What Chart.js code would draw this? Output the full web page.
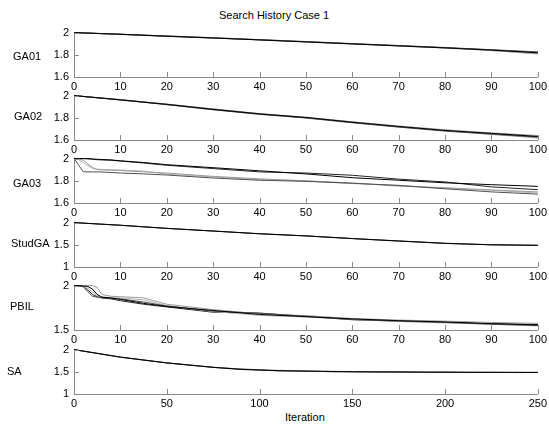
<!DOCTYPE html>
<html>
<head>
<meta charset="utf-8">
<script src="https://cdn.jsdelivr.net/npm/chart.js@4.4.1/dist/chart.umd.min.js"></script>
<style>
  html, body { margin: 0; padding: 0; background: #fff; }
  #fig { position: relative; width: 549px; height: 435px; overflow: hidden; background: #fff;
         font-family: 'Liberation Sans', Arial, sans-serif; color: #000; }
  .panel { position: absolute; left: 0; width: 550px; height: 72px; }
  .txt { position: absolute; font-size: 11px; line-height: 13px; white-space: nowrap; }
</style>
</head>
<body>
<div id="fig">
  <div class="txt" style="left:219px; top:9px;">Search History Case 1</div>
  <div class="txt" style="left:285px; top:411px;">Iteration</div>
</div>
<script>
// ---- data ----
const iter10   = [0, 10, 20, 30, 40, 50, 60, 70, 80, 90, 100];
const iterFine = [0, 1, 2, 3, 4, 5, 6, 8, 10, 15, 20, 30, 40, 50, 60, 70, 80, 90, 100];
const iterSA   = [0, 25, 50, 75, 90, 100, 110, 125, 140, 150, 165, 175, 190, 200, 215, 225, 240, 250];

const ga01Runs = [
  [2.000, 1.985, 1.968, 1.952, 1.934, 1.916, 1.898, 1.880, 1.862, 1.842, 1.818],
  [2.000, 1.984, 1.966, 1.950, 1.936, 1.918, 1.900, 1.884, 1.866, 1.846, 1.826],
  [2.000, 1.986, 1.970, 1.955, 1.937, 1.920, 1.902, 1.882, 1.864, 1.838, 1.812],
  [2.000, 1.983, 1.967, 1.951, 1.933, 1.915, 1.896, 1.879, 1.860, 1.840, 1.806],
  [2.000, 1.985, 1.969, 1.953, 1.935, 1.917, 1.899, 1.881, 1.863, 1.844, 1.822],
];
const ga02Runs = [
  [2.000, 1.962, 1.921, 1.876, 1.835, 1.803, 1.760, 1.722, 1.686, 1.660, 1.632],
  [2.000, 1.960, 1.918, 1.872, 1.832, 1.798, 1.755, 1.716, 1.680, 1.652, 1.625],
  [2.000, 1.964, 1.924, 1.880, 1.838, 1.806, 1.764, 1.726, 1.692, 1.664, 1.640],
  [2.000, 1.961, 1.920, 1.874, 1.830, 1.800, 1.757, 1.718, 1.684, 1.650, 1.618],
  [2.000, 1.963, 1.922, 1.878, 1.836, 1.801, 1.762, 1.720, 1.688, 1.656, 1.628],
];
const ga03Runs = [
  [2.000, 2.000, 2.000, 1.998, 1.996, 1.994, 1.992, 1.988, 1.980, 1.965, 1.945, 1.918, 1.890, 1.862, 1.828, 1.805, 1.782, 1.765, 1.750],
  [2.000, 1.940, 1.882, 1.880, 1.880, 1.880, 1.879, 1.875, 1.870, 1.862, 1.852, 1.825, 1.805, 1.795, 1.778, 1.758, 1.728, 1.700, 1.680],
  [2.000, 2.000, 1.985, 1.950, 1.920, 1.900, 1.898, 1.895, 1.892, 1.880, 1.870, 1.840, 1.818, 1.800, 1.780, 1.752, 1.738, 1.718, 1.700],
  [2.000, 1.990, 1.965, 1.935, 1.912, 1.905, 1.903, 1.900, 1.897, 1.888, 1.860, 1.835, 1.810, 1.798, 1.775, 1.760, 1.730, 1.715, 1.690],
  [2.000, 2.000, 2.000, 2.000, 1.995, 1.990, 1.988, 1.985, 1.978, 1.960, 1.940, 1.910, 1.880, 1.870, 1.850, 1.815, 1.790, 1.745, 1.720],
];
const studRuns = [
  [2.000, 1.940, 1.870, 1.810, 1.748, 1.700, 1.640, 1.585, 1.532, 1.500, 1.488],
  [2.000, 1.941, 1.871, 1.811, 1.750, 1.702, 1.642, 1.588, 1.535, 1.502, 1.490],
  [2.000, 1.939, 1.869, 1.809, 1.747, 1.699, 1.639, 1.583, 1.530, 1.499, 1.487],
];
const pbilRuns = [
  [2.000, 2.000, 1.995, 1.990, 1.960, 1.900, 1.870, 1.860, 1.845, 1.800, 1.765, 1.720, 1.675, 1.650, 1.625, 1.605, 1.590, 1.572, 1.558],
  [2.000, 1.998, 1.990, 1.930, 1.880, 1.870, 1.865, 1.860, 1.850, 1.815, 1.770, 1.712, 1.690, 1.655, 1.615, 1.600, 1.585, 1.565, 1.550],
  [2.000, 2.000, 2.000, 2.000, 2.000, 1.980, 1.900, 1.880, 1.875, 1.862, 1.790, 1.730, 1.680, 1.662, 1.630, 1.612, 1.600, 1.585, 1.575],
  [2.000, 1.995, 1.985, 1.970, 1.930, 1.890, 1.875, 1.865, 1.860, 1.840, 1.775, 1.708, 1.665, 1.645, 1.620, 1.595, 1.580, 1.565, 1.545],
  [2.000, 2.000, 1.990, 1.950, 1.900, 1.875, 1.860, 1.850, 1.830, 1.790, 1.760, 1.700, 1.690, 1.652, 1.618, 1.602, 1.588, 1.570, 1.562],
];
const saRuns = [
  [2.000, 1.830, 1.700, 1.600, 1.555, 1.540, 1.525, 1.515, 1.505, 1.500, 1.498, 1.495, 1.492, 1.490, 1.488, 1.487, 1.486, 1.485],
  [2.000, 1.832, 1.702, 1.603, 1.560, 1.545, 1.520, 1.518, 1.500, 1.505, 1.492, 1.500, 1.488, 1.495, 1.484, 1.490, 1.482, 1.488],
  [2.000, 1.828, 1.698, 1.598, 1.550, 1.535, 1.530, 1.510, 1.510, 1.495, 1.502, 1.490, 1.496, 1.486, 1.492, 1.484, 1.490, 1.483],
  [2.000, 1.831, 1.701, 1.601, 1.565, 1.548, 1.535, 1.522, 1.512, 1.508, 1.500, 1.497, 1.494, 1.492, 1.490, 1.489, 1.488, 1.487],
];

const panelNames = ['GA01', 'GA02', 'GA03', 'StudGA', 'PBIL', 'SA'];
const yTicksGA   = [1.6, 1.8, 2];
const yTicksStud = [1, 1.5, 2];
const yTicksPBIL = [1.5, 2];
const yTicksSA   = [1, 1.5, 2];
const xTicks100  = [0, 10, 20, 30, 40, 50, 60, 70, 80, 90, 100];
const xTicks250  = [0, 50, 100, 150, 200, 250];

// ---- layout / style ----
const FONT      = "'Liberation Sans', Arial, sans-serif";
const AXIS_GRAY = '#8a8a8a';
const RUN_COLORS = ['#000000', '#505050', '#9a9a9a', '#b4b4b4', '#262626'];
const panelTops  = [29, 92, 155, 219, 282, 346];
const labelPos   = [[13, 24], [14, 21], [13, 25], [11, 21], [10, 21], [7, 22]]; // [x, dy from plot top]

const panels = [
  { iters: iter10,   runs: ga01Runs, yTicks: yTicksGA,   xTicks: xTicks100 },
  { iters: iter10,   runs: ga02Runs, yTicks: yTicksGA,   xTicks: xTicks100 },
  { iters: iterFine, runs: ga03Runs, yTicks: yTicksGA,   xTicks: xTicks100 },
  { iters: iter10,   runs: studRuns, yTicks: yTicksStud, xTicks: xTicks100 },
  { iters: iterFine, runs: pbilRuns, yTicks: yTicksPBIL, xTicks: xTicks100 },
  { iters: iterSA,   runs: saRuns,   yTicks: yTicksSA,   xTicks: xTicks250 },
];

// inward tick marks + horizontal panel name, MATLAB style
const innerTicks = {
  id: 'innerTicks',
  afterDraw(chart, args, opts) {
    const { ctx, chartArea: a, scales: { x, y } } = chart;
    ctx.save();
    ctx.strokeStyle = AXIS_GRAY;
    ctx.lineWidth = 1;
    ctx.beginPath();
    x.ticks.forEach(t => {
      const px = Math.round(x.getPixelForValue(t.value)) + 0.5;
      ctx.moveTo(px, a.bottom);
      ctx.lineTo(px, a.bottom - 5);
    });
    y.ticks.forEach(t => {
      const py = Math.round(y.getPixelForValue(t.value)) + 0.5;
      ctx.moveTo(a.left, py);
      ctx.lineTo(a.left + 5, py);
    });
    ctx.stroke();
    ctx.fillStyle = '#000';
    ctx.font = '11px ' + FONT;
    ctx.textBaseline = 'middle';
    ctx.fillText(opts.text, opts.x, a.top + opts.dy);
    ctx.restore();
  }
};

const fig = document.getElementById('fig');

panels.forEach((p, i) => {
  const box = document.createElement('div');
  box.className = 'panel';
  box.style.top = (panelTops[i] - 8) + 'px';
  const cv = document.createElement('canvas');
  box.appendChild(cv);
  fig.appendChild(box);

  new Chart(cv, {
    type: 'line',
    data: {
      datasets: p.runs.map((run, k) => ({
        data: run.map((v, j) => ({ x: p.iters[j], y: v })),
        borderColor: RUN_COLORS[k % RUN_COLORS.length],
        borderWidth: 1,
        pointRadius: 0,
        tension: 0,
        fill: false,
        clip: 3,
      })),
    },
    options: {
      responsive: true,
      maintainAspectRatio: false,
      animation: false,
      events: [],
      layout: { padding: { left: 0, right: 10, top: 8, bottom: 0 } },
      plugins: {
        legend: { display: false },
        tooltip: { enabled: false },
        innerTicks: { text: panelNames[i], x: labelPos[i][0], dy: labelPos[i][1] },
      },
      scales: {
        x: {
          type: 'linear',
          min: p.xTicks[0],
          max: p.xTicks[p.xTicks.length - 1],
          afterFit: s => { s.height = 16; },
          afterBuildTicks: s => { s.ticks = p.xTicks.map(v => ({ value: v })); },
          grid: { display: false, drawTicks: false },
          border: { display: true, color: AXIS_GRAY, width: 1 },
          ticks: {
            autoSkip: false, maxRotation: 0, padding: 3,
            color: '#000', font: { family: FONT, size: 11 },
            callback: v => String(v),
          },
        },
        y: {
          type: 'linear',
          min: p.yTicks[0],
          max: p.yTicks[p.yTicks.length - 1],
          afterFit: s => { s.width = 74; },
          afterBuildTicks: s => { s.ticks = p.yTicks.map(v => ({ value: v })); },
          grid: { display: false, drawTicks: false },
          border: { display: true, color: AXIS_GRAY, width: 1 },
          ticks: {
            autoSkip: false, padding: 5,
            color: '#000', font: { family: FONT, size: 11 },
            callback: v => String(+v.toFixed(2)),
          },
        },
      },
    },
    plugins: [innerTicks],
  });
});
</script>
</body>
</html>
